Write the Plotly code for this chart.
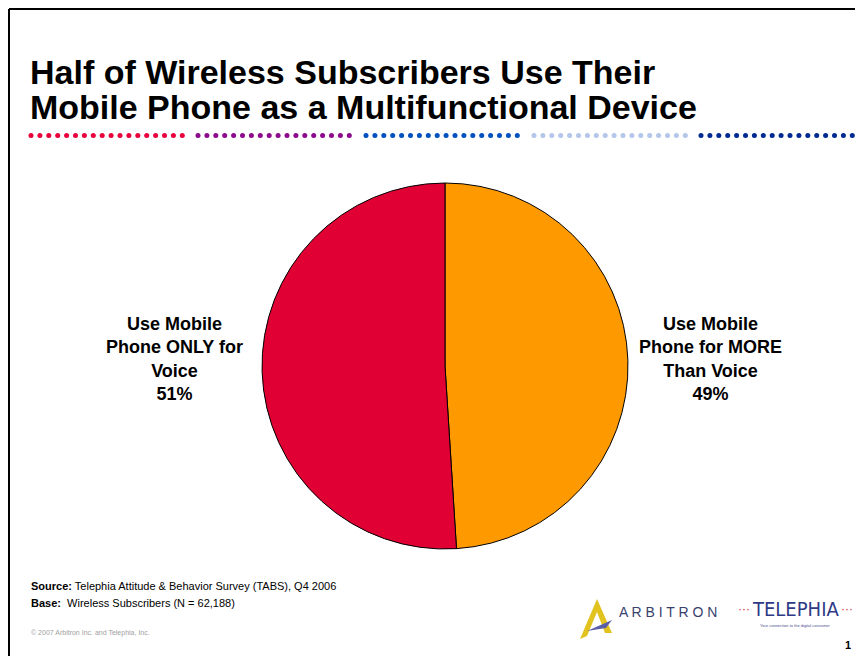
import numpy as np
import plotly.graph_objects as go

W, H = 863, 656
OFF = 8  # page body margin in the browser

# Data
categories = ["Use Mobile<br>Phone for MORE<br>Than Voice", "Use Mobile<br>Phone ONLY for<br>Voice"]
values = [49, 51]
colors = ["#FF9900", "#E00034"]

title_lines = ["Half of Wireless Subscribers Use Their", "Mobile Phone as a Multifunctional Device"]
source_text = "<b>Source:</b> Telephia Attitude & Behavior Survey (TABS), Q4 2006"
base_text = "<b>Base:</b>  Wireless Subscribers (N = 62,188)"
copyright_text = "© 2007 Arbitron Inc. and Telephia, Inc."

fig = go.Figure()

# Pie geometry (screen pixels)
cx, cy, r = 445, 366, 183
fig.add_trace(go.Pie(
    labels=categories, values=values, sort=False, direction="clockwise", rotation=0,
    marker=dict(colors=colors, line=dict(color="black", width=1)),
    textinfo="none", hoverinfo="label+percent", showlegend=False,
    domain=dict(x=[(cx - r - OFF) / W, (cx + r - OFF) / W],
                y=[1 - (cy + r - OFF) / H, 1 - (cy - r - OFF) / H]),
))

# Dotted separator line
seg_colors = ["#E8003D", "#8C0A8C", "#0050C0", "#B4C6EA", "#002A92"]
seg_starts = [31, 198, 366, 534, 701]
for c, s in zip(seg_colors, seg_starts):
    xs = s + np.arange(18) * 8.9
    fig.add_trace(go.Scatter(
        x=xs, y=np.full(len(xs), 135.5), mode="markers",
        marker=dict(color=c, size=5, symbol="circle", line=dict(width=0)),
        hoverinfo="skip", showlegend=False,
    ))

# Arbitron logo triangle
fig.add_shape(type="path", path="M 580 639 L 597 599 L 612 633 L 605 633 L 597 612 L 587 636 Z",
              fillcolor="#E2C21E", line=dict(width=0), xref="x", yref="y")
fig.add_shape(type="path", path="M 587 631 L 612 620 L 606 628 Z",
              fillcolor="#5A5EA8", line=dict(width=0), xref="x", yref="y")

ann = []
def txt(x, y, t, size, color="black", xanchor="left", yanchor="middle", align="left", family="Liberation Sans, Arial, sans-serif"):
    ann.append(dict(x=x, y=y, xref="x", yref="y", text=t, showarrow=False,
                    font=dict(size=size, color=color, family=family),
                    xanchor=xanchor, yanchor=yanchor, align=align))

txt(28, 72, "<b>" + title_lines[0] + "</b>", 34)
txt(28, 107, "<b>" + title_lines[1] + "</b>", 34)

# Slice labels
txt(710, 359, "<b>" + categories[0] + "<br>" + f"{values[0]}%" + "</b>", 18, xanchor="center", align="center")
txt(174, 359, "<b>" + categories[1] + "<br>" + f"{values[1]}%" + "</b>", 18, xanchor="center", align="center")

txt(29, 586, source_text, 11)
txt(29, 603, base_text, 11)
txt(29, 633, copyright_text, 7, color="#A0A0A0")

# logos
txt(617, 612, "A R B I T R O N", 14, color="#3A3F6E")
txt(795, 609, "TELEPHIA", 20, color="#2E3A86", xanchor="center", family="DejaVu Sans Condensed, Liberation Sans Narrow, sans-serif")
txt(744, 609, "···", 12, color="#D03040", xanchor="center")
txt(847, 609, "···", 12, color="#D03040", xanchor="center")
txt(795, 625, "Your connection to the digital consumer", 4, color="#4A5090", xanchor="center")
txt(848, 645, "<b>1</b>", 11, xanchor="center")

fig.update_layout(
    width=W, height=H, margin=dict(l=0, r=0, t=0, b=0),
    paper_bgcolor="white", plot_bgcolor="rgba(0,0,0,0)",
    xaxis=dict(range=[OFF, W + OFF], visible=False, fixedrange=True),
    yaxis=dict(range=[H + OFF, OFF], visible=False, fixedrange=True),
    annotations=ann,
    shapes=list(fig.layout.shapes) + [
        dict(type="line", x0=OFF + 1, x1=W + OFF, y0=OFF + 1, y1=OFF + 1, xref="x", yref="y", line=dict(color="black", width=2)),
        dict(type="line", x0=OFF + 1, x1=OFF + 1, y0=OFF + 1, y1=H + OFF, xref="x", yref="y", line=dict(color="black", width=2)),
    ],
)

fig.write_html("out.html")
